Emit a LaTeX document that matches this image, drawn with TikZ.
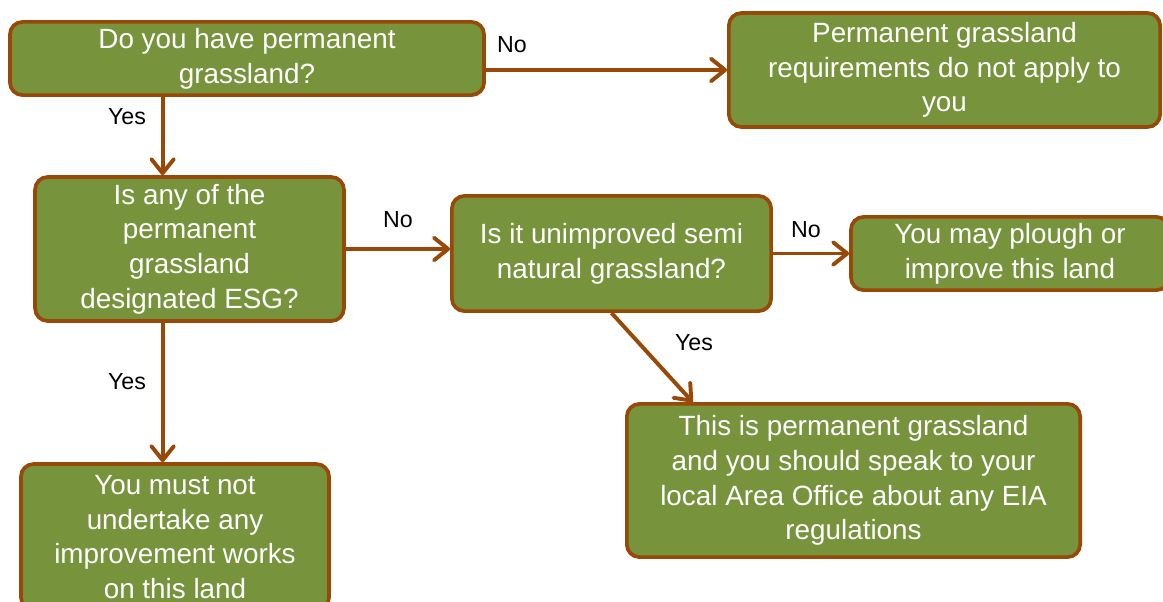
\documentclass[tikz,border=0pt]{standalone}
\usepackage{fontspec}
\setmainfont{Liberation Sans}
\usepackage{tikz}
\usetikzlibrary{arrows.meta}
\usetikzlibrary{positioning}
\definecolor{grass}{HTML}{77933C}
\definecolor{soil}{HTML}{984807}
\begin{document}
\begin{tikzpicture}[x=0.025cm,y=-0.025cm,
  box/.style={draw=soil,fill=grass,line width=2.6pt,rounded corners=9pt,text=white,align=center,inner sep=2pt,font=\fontsize{19.8}{24.7}\selectfont},
  lbl/.style={text=black,inner sep=0pt,font=\fontsize{16.5}{20}\selectfont},
  go/.style={draw=soil,line width=2.8pt,-{Straight Barb[length=10pt,width=16pt,line width=2.8pt,round]}}]
  \path[use as bounding box,clip](0,0)rectangle(1163,601);
  \node[box,minimum width=11.85cm,minimum height=1.83cm] (have) at (247,58.5){Do you have permanent\\grassland?};
  \node[box,minimum width=10.78cm,minimum height=2.85cm] (noapply) at (944.5,70){Permanent grassland\\requirements do not apply to\\you};
  \node[box,minimum width=7.72cm,minimum height=3.6cm] (esg) at (189.5,249){Is any of the\\permanent\\grassland\\designated ESG?};
  \node[box,minimum width=7.98cm,minimum height=2.88cm] (semi) at (611.5,253.5){Is it unimproved semi\\natural grassland?};
  \node[box,minimum width=7.95cm,minimum height=1.83cm] (plough) at (1010,253.5){You may plough or\\improve this land};
  \node[box,minimum width=11.33cm,minimum height=3.83cm] (office) at (853.5,480.5){This is permanent grassland\\and you should speak to your\\local Area Office about any EIA\\regulations};
  \node[box,minimum width=7.7cm,minimum height=3.65cm] (mustnot) at (175,537){You must not\\undertake any\\improvement works\\on this land};
  % answers
  \node[lbl] (no1) at (512,45){No};
  \node[lbl] (yes1) at (127,117){Yes};
  \node[lbl] (no2) at (398,220){No};
  \node[lbl] (no3) at (806,230){No};
  \node[lbl] (yes2) at (694,343){Yes};
  \node[lbl] (yes3) at (127,382){Yes};
  \draw[go](have.east|-noapply.west)--(noapply.west);
  \draw[go](have.south-|esg.110)--(esg.110);
  \draw[go](esg.east)--(esg.east-|semi.west);
  \draw[go](semi.east)--(plough.west);
  \draw[go](semi.south)--(office.154);
  \draw[go](esg.250)--(esg.250|-mustnot.north);
\end{tikzpicture}
\end{document}
